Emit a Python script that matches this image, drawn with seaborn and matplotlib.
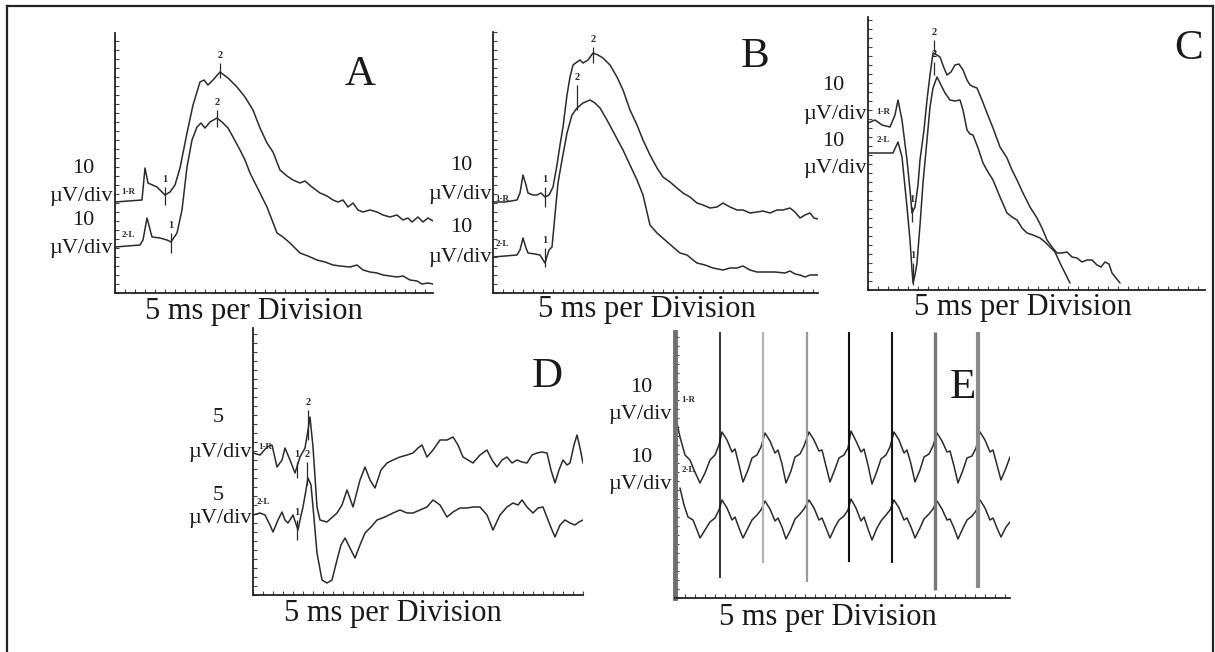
import matplotlib
matplotlib.use('Agg')
import matplotlib.pyplot as plt
from matplotlib.ticker import MultipleLocator
import seaborn as sns

# ---- traces (x = offset along time axis, y = height above baseline) ----
# Panel A
a_t_top = [0, 27, 30, 33, 42, 50, 55, 60, 65, 72, 78, 85, 89, 93, 98, 105, 113, 122, 130, 138,
           145, 152, 158, 165, 172, 178, 185, 190, 197, 205, 212, 218, 223, 228, 233, 238, 243, 248, 255, 262,
           268, 275, 282, 288, 293, 297, 303, 308, 313, 318]
a_top = [91, 93, 125, 110, 106, 98, 101, 108, 125, 160, 188, 211, 213, 208, 213, 221, 215, 206, 196, 183,
         165, 150, 141, 123, 117, 113, 110, 112, 106, 100, 97, 93, 91, 93, 86, 90, 83, 81, 83, 81,
         78, 76, 78, 73, 75, 71, 76, 71, 75, 72]
a_t_bot = [0, 25, 28, 32, 37, 45, 52, 56, 62, 67, 72, 77, 82, 86, 90, 95, 102, 107, 113, 118,
           125, 130, 135, 140, 145, 152, 157, 162, 168, 175, 185, 193, 202, 210, 218, 225, 235, 242, 248, 255,
           262, 268, 275, 282, 288, 295, 302, 307, 313, 318]
a_bot = [46, 48, 53, 75, 56, 55, 53, 51, 60, 83, 126, 153, 166, 170, 165, 171, 175, 171, 165, 156,
         143, 133, 120, 110, 100, 86, 73, 60, 56, 50, 40, 37, 33, 31, 28, 27, 26, 28, 23, 21,
         20, 18, 17, 16, 17, 13, 12, 9, 10, 9]

# Panel B
b_t_top = [0, 12, 24, 27, 30, 33, 35, 40, 44, 48, 52, 56, 60, 64, 67, 70, 74, 77, 80, 84,
           87, 90, 95, 100, 105, 110, 117, 124, 130, 137, 144, 150, 157, 164, 170, 177, 184, 190, 197, 204,
           210, 217, 224, 230, 237, 244, 250, 257, 264, 270, 277, 284, 290, 297, 302, 307, 312, 317, 321, 325]
b_top = [91, 91, 93, 100, 118, 108, 100, 98, 98, 100, 96, 98, 106, 128, 148, 166, 198, 216, 228, 231,
         233, 230, 233, 240, 238, 235, 228, 216, 203, 183, 168, 153, 138, 125, 116, 111, 105, 100, 96, 90,
         88, 85, 86, 90, 86, 83, 83, 80, 81, 82, 80, 83, 83, 85, 81, 75, 78, 80, 75, 74]
b_t_bot = [0, 12, 24, 27, 30, 33, 35, 42, 47, 52, 56, 59, 62, 65, 69, 74, 79, 84, 90, 97,
           102, 107, 114, 122, 130, 137, 144, 150, 157, 164, 172, 180, 187, 194, 200, 204, 212, 220, 230, 237,
           244, 250, 257, 264, 272, 282, 292, 297, 302, 307, 312, 317, 325]
b_bot = [36, 37, 38, 43, 55, 45, 40, 39, 38, 30, 43, 46, 78, 110, 133, 160, 178, 185, 190, 193,
         190, 185, 173, 158, 143, 128, 113, 98, 68, 60, 53, 46, 40, 38, 33, 30, 28, 25, 23, 25,
         25, 27, 23, 21, 21, 21, 20, 22, 19, 18, 16, 18, 18]

# Panel C
c_t_top = [0, 7, 14, 22, 27, 30, 34, 39, 42, 44, 47, 50, 52, 56, 59, 62, 65, 69, 72, 76,
           79, 83, 87, 91, 95, 99, 102, 106, 109, 114, 119, 125, 132, 139, 144, 149, 155, 162, 169, 174,
           179, 184, 189, 194, 199, 204, 209, 214, 219, 224, 229, 233, 237, 241, 244, 248, 252]
c_top = [167, 170, 165, 163, 175, 190, 170, 130, 100, 77, 83, 105, 130, 160, 190, 215, 237, 235, 233, 222,
         215, 218, 225, 226, 220, 210, 205, 203, 202, 190, 177, 162, 143, 132, 120, 110, 97, 83, 72, 62,
         50, 43, 37, 37, 38, 33, 32, 28, 30, 30, 25, 23, 28, 26, 17, 12, 7]
c_t_bot = [0, 12, 25, 30, 34, 39, 42, 44, 45, 47, 49, 52, 55, 59, 62, 65, 69, 73, 77, 82,
           87, 92, 95, 99, 102, 105, 110, 115, 120, 125, 132, 139, 144, 149, 154, 159, 165, 172, 177, 182,
           187, 192, 197, 202]
c_bot = [137, 137, 137, 148, 133, 83, 50, 20, 7, 15, 27, 65, 107, 150, 183, 202, 213, 205, 197, 190,
         189, 190, 180, 160, 156, 155, 142, 127, 118, 110, 93, 77, 73, 70, 62, 57, 55, 52, 48, 43,
         38, 27, 17, 7]

# Panel D
d_t_top = [0, 7, 14, 19, 24, 29, 32, 37, 42, 47, 52, 55, 57, 60, 64, 67, 74, 84, 89, 94,
           100, 107, 112, 117, 122, 128, 134, 140, 147, 154, 160, 165, 169, 174, 180, 187, 194, 200, 205, 210,
           215, 220, 227, 234, 239, 244, 249, 254, 259, 264, 269, 274, 279, 284, 289, 294, 298, 302, 306, 310,
           314, 317, 321, 324, 327, 330]
d_top = [142, 140, 148, 150, 128, 135, 147, 135, 122, 138, 147, 165, 178, 148, 88, 75, 73, 82, 90, 105,
         88, 115, 128, 115, 107, 125, 132, 135, 138, 140, 142, 147, 150, 138, 145, 155, 155, 158, 150, 138,
         135, 132, 140, 145, 135, 128, 135, 138, 132, 135, 133, 132, 140, 142, 143, 142, 125, 112, 125, 135,
         130, 132, 150, 160, 147, 132]
d_t_bot = [0, 7, 12, 17, 20, 25, 29, 32, 35, 40, 45, 47, 50, 53, 55, 58, 60, 64, 69, 74,
           79, 84, 88, 92, 97, 102, 107, 112, 118, 124, 132, 140, 147, 154, 160, 167, 174, 180, 187, 194,
           200, 207, 214, 220, 227, 234, 240, 247, 254, 260, 265, 269, 274, 280, 285, 290, 295, 299, 302, 307,
           312, 317, 322, 326, 330]
d_bot = [80, 82, 80, 70, 63, 75, 83, 75, 72, 80, 65, 75, 88, 105, 117, 110, 88, 42, 15, 12,
         15, 35, 50, 57, 47, 37, 50, 62, 68, 75, 78, 82, 85, 82, 82, 85, 88, 95, 90, 78,
         83, 87, 87, 88, 88, 80, 65, 80, 88, 92, 90, 95, 88, 82, 87, 88, 75, 65, 58, 70,
         75, 72, 70, 73, 75]

# Panel E (stimulus artifact every ~8.6 ms)
e_t_top = [2, 5, 10, 15, 19, 25, 30, 35, 40, 44,
           47, 52, 57, 60, 64, 68, 73, 77, 82, 86,
           90, 95, 100, 103, 107, 111, 116, 120, 125, 129,
           134, 139, 144, 147, 151, 155, 160, 164, 169, 173,
           176, 181, 186, 189, 193, 197, 202, 206, 211, 215,
           219, 224, 229, 232, 236, 240, 245, 249, 254, 258,
           262, 267, 272, 275, 279, 283, 288, 292, 297, 301,
           305, 310, 315, 318, 322, 326, 331, 335]
e_top = [175, 161, 143, 138, 128, 115, 125, 138, 143, 153,
         166, 158, 146, 149, 133, 116, 128, 140, 143, 151,
         165, 157, 145, 148, 134, 115, 127, 141, 144, 152,
         166, 158, 147, 148, 132, 116, 129, 140, 143, 150,
         167, 157, 146, 149, 133, 114, 127, 139, 143, 151,
         166, 158, 145, 148, 134, 116, 128, 141, 144, 152,
         165, 157, 146, 147, 132, 115, 128, 140, 142, 150,
         166, 158, 146, 148, 133, 118, 130, 141]
e_t_bot = [5, 9, 13, 18, 22, 25, 30, 35, 40, 44,
           47, 52, 57, 60, 64, 68, 73, 77, 82, 86,
           90, 95, 100, 103, 107, 111, 116, 120, 125, 129,
           134, 139, 144, 147, 151, 155, 160, 164, 169, 173,
           176, 181, 186, 189, 193, 197, 202, 206, 211, 215,
           219, 224, 229, 232, 236, 240, 245, 249, 254, 258,
           262, 267, 272, 275, 279, 283, 288, 292, 297, 301,
           305, 310, 315, 318, 322, 326, 331, 335]
e_bot = [110, 93, 81, 78, 68, 60, 68, 76, 80, 88,
         98, 90, 78, 81, 70, 60, 70, 78, 83, 88,
         97, 89, 77, 80, 71, 59, 69, 79, 84, 89,
         98, 90, 78, 80, 70, 60, 71, 78, 82, 88,
         99, 90, 77, 81, 69, 58, 70, 77, 83, 88,
         98, 90, 78, 80, 71, 60, 70, 79, 84, 89,
         97, 89, 78, 79, 70, 59, 70, 78, 82, 87,
         98, 90, 78, 80, 70, 61, 71, 76]
e_stim_t = [45, 88, 132, 174, 217, 260, 303]
e_stim_end = [20, 35, 16, 36, 35, 8, 10]

# ---- peak markers: position, tick span, label ----
a_mk_t = [50, 105, 56, 102]
a_mk_lo = [88, 215, 40, 166]
a_mk_hi = [106, 230, 60, 183]
b_mk_t = [52, 100, 52, 84]
b_mk_lo = [86, 230, 26, 183]
b_mk_hi = [106, 246, 45, 208]
c_mk_t = [44, 66, 45, 66]
c_mk_lo = [68, 238, 5, 215]
c_mk_hi = [83, 250, 27, 228]
d_mk_t = [44, 55, 54, 44]
d_mk_lo = [117, 155, 110, 55]
d_mk_hi = [133, 185, 133, 75]
mk_labels = ['1', '2', '1', '2']
d_mk_labels = ['1', '2', '2', '1']

scales = ['10', '10', '10', '5', '10']
letters = ['A', 'B', 'C', 'D', 'E']

# ---- layout (pixels) ----
FW, FH = 1215, 652
sns.set_theme(style='white')
plt.rcParams['font.family'] = ['Liberation Serif', 'DejaVu Serif']
INK = '#2b2b2b'

fig = plt.figure(figsize=(FW / 100, FH / 100), dpi=100)

# outer frame
frame = fig.add_axes([7 / FW, -0.02, (1213 - 7) / FW, (646 + 13) / FH])
frame.set_xticks([]); frame.set_yticks([])
for s in ['left', 'top', 'right']:
    frame.spines[s].set_visible(True)
    frame.spines[s].set_color('#222')
    frame.spines[s].set_linewidth(1.6)
frame.spines['bottom'].set_visible(False)


def make_axes(x0, x1, ytop, ybot):
    ax = fig.add_axes([x0 / FW, 1 - ybot / FH, (x1 - x0) / FW, (ybot - ytop) / FH])
    ax.set_xlim(0, x1 - x0)
    ax.set_ylim(0, ybot - ytop)
    ax.patch.set_alpha(0)
    for s in ['top', 'right']:
        ax.spines[s].set_visible(False)
    for s in ['left', 'bottom']:
        ax.spines[s].set_color('#222')
        ax.spines[s].set_linewidth(1.3)
    ax.xaxis.set_major_locator(MultipleLocator(10))
    ax.yaxis.set_major_locator(MultipleLocator(9))
    ax.tick_params(direction='in', length=3, width=0.8, colors='#444',
                   bottom=True, left=True, labelbottom=False, labelleft=False)
    return ax


def trace(ax, t, v):
    sns.lineplot(x=t, y=v, ax=ax, color=INK, linewidth=1.1, estimator=None)


def marks(ax, t, lo, hi, labels):
    ax.vlines(t, lo, hi, color=INK, linewidth=0.9)
    for ti, h, lab in zip(t, hi, labels):
        ax.text(ti, h + 3, lab, ha='center', va='bottom', fontsize=7.5,
                fontweight='bold', color=INK)


def tags(ax, xs, ys, names=('1-R', '2-L')):
    for x, y, n in zip(xs, ys, names):
        ax.text(x, y, n, ha='center', va='center', fontsize=6.5,
                fontweight='bold', color=INK)


def side_text(x, y, s, **kw):
    fig.text(x / FW, 1 - y / FH, s, color='#1a1a1a', **kw)


geo = [(115, 433, 33, 293), (493, 818, 32, 293), (868, 1205, 17, 290),
       (253, 583, 328, 595), (675, 1010, 332, 598)]
axs = [make_axes(*g) for g in geo]

trace(axs[0], a_t_top, a_top); trace(axs[0], a_t_bot, a_bot)
trace(axs[1], b_t_top, b_top); trace(axs[1], b_t_bot, b_bot)
trace(axs[2], c_t_top, c_top); trace(axs[2], c_t_bot, c_bot)
trace(axs[3], d_t_top, d_top); trace(axs[3], d_t_bot, d_bot)
trace(axs[4], e_t_top, e_top); trace(axs[4], e_t_bot, e_bot)

marks(axs[0], a_mk_t, a_mk_lo, a_mk_hi, mk_labels)
marks(axs[1], b_mk_t, b_mk_lo, b_mk_hi, mk_labels)
marks(axs[2], c_mk_t, c_mk_lo, c_mk_hi, mk_labels)
marks(axs[3], d_mk_t, d_mk_lo, d_mk_hi, d_mk_labels)

tags(axs[0], [13, 13], [101, 58])
tags(axs[1], [9, 9], [94, 49])
tags(axs[2], [15, 15], [178, 150])
tags(axs[3], [12, 10], [148, 93])
tags(axs[4], [13, 13], [198, 128])

# stimulus artifacts in E
e_ax = axs[4]
stim_colors = ['#111111', '#b5b5b5', '#9a9a9a', '#111111', '#161616', '#777777', '#8a8a8a']
stim_widths = [1.2, 1.6, 1.6, 1.5, 1.5, 2.4, 3.0]
for t, end, c, w in zip(e_stim_t, e_stim_end, stim_colors, stim_widths):
    e_ax.vlines(t, end, e_ax.get_ylim()[1], color=c, linewidth=w)
e_ax.spines['left'].set_color('#6f6f6f')
e_ax.spines['left'].set_linewidth(3.5)

# scale labels beside each panel
scale_pos = [(83, 168, 113, 197, 220, 248), (461, 165, 492, 195, 227, 257),
             (833, 86, 867, 115, 142, 168), (218, 418, 252, 453, 495, 518),
             (641, 387, 672, 415, 457, 485)]
for s, (cx, y1, rx, y2, y3, y4) in zip(scales, scale_pos):
    side_text(cx, y1, s, ha='center', va='center', fontsize=16)
    side_text(rx, y2, '\u00b5V/div', ha='right', va='center', fontsize=16)
    side_text(cx, y3, s, ha='center', va='center', fontsize=16)
    side_text(rx, y4, '\u00b5V/div', ha='right', va='center', fontsize=16)

letter_pos = [(360, 75), (755, 57), (1189, 49), (547, 377), (963, 388)]
for l, (x, y) in zip(letters, letter_pos):
    side_text(x, y, l, ha='center', va='center', fontsize=31)

xlab_pos = [(254, 312), (647, 309), (1023, 308), (393, 613), (828, 618)]
for x, y in xlab_pos:
    side_text(x, y, '5 ms per Division', ha='center', va='center', fontsize=22)

fig.savefig('out.png', dpi=100, facecolor='white')
